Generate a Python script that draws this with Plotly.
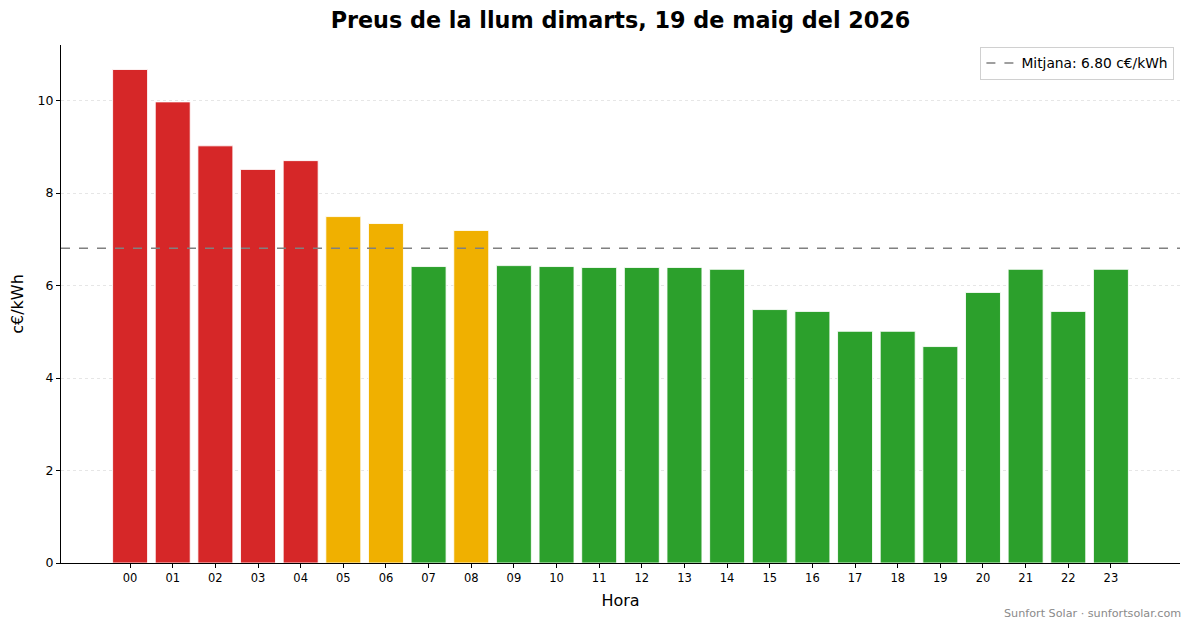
#!/usr/bin/env python3
import numpy as np
import plotly.graph_objects as go

hours = [f"{h:02d}" for h in range(24)]
prices = [
    10.67, 9.97, 9.02, 8.51, 8.70, 7.49, 7.34, 6.41,
    7.19, 6.43, 6.41, 6.39, 6.39, 6.39, 6.35, 5.48,
    5.44, 5.01, 5.01, 4.68, 5.85, 6.35, 5.44, 6.35,
]
title = "Preus de la llum dimarts, 19 de maig del 2026"
footer = "Sunfort Solar · sunfortsolar.com"

RED = "#d62728"
ORANGE = "#f0b000"
GREEN = "#2ca02c"
FONT = "DejaVu Sans"

W, H = 1193, 628
ML, MR, MT, MB = 61, 13, 45, 65

mean = float(np.mean(prices))


def bar_color(v: float) -> str:
    if v >= mean * 1.2:
        return RED
    if v >= mean * 1.05:
        return ORANGE
    return GREEN


fig = go.Figure()
fig.add_trace(
    go.Bar(
        x=list(range(len(hours))),
        y=prices,
        width=0.82,
        marker=dict(color=[bar_color(v) for v in prices],
                    line=dict(color="rgba(255,255,255,0.85)", width=1)),
        showlegend=False,
        hoverinfo="x+y",
    )
)
fig.add_hline(y=mean, line=dict(color="#808080", width=1.5, dash="dash"))
fig.add_trace(
    go.Scatter(
        x=[None], y=[None], mode="lines",
        line=dict(color="#808080", width=1.5, dash="dash"),
        name=f"Mitjana: {mean:.2f} c€/kWh",
    )
)

fig.update_layout(
    width=W,
    height=H,
    margin=dict(l=ML, r=MR, t=MT, b=MB),
    paper_bgcolor="white",
    plot_bgcolor="white",
    font=dict(family=FONT, color="black", size=13),
    title=dict(text=f"<b>{title}</b>", x=0.5, xref="paper", xanchor="center",
               y=1 - 20 / H, yanchor="middle", font=dict(size=22.3, family=FONT)),
    showlegend=True,
    legend=dict(x=0.995, y=0.997, xanchor="right", yanchor="top",
                bordercolor="#d0d0d0", borderwidth=1, bgcolor="white",
                font=dict(size=13.8), itemwidth=30),
    xaxis=dict(
        range=[-1.62, 24.62],
        tickmode="array",
        tickvals=list(range(len(hours))),
        ticktext=hours,
        tickfont=dict(size=11.5),
        ticks="outside", ticklen=4, tickcolor="black",
        showline=True, linecolor="black", linewidth=1,
        showgrid=False, zeroline=False,
        title=dict(text="Hora", font=dict(size=16), standoff=11),
    ),
    yaxis=dict(
        range=[0, 11.2],
        tickvals=[0, 2, 4, 6, 8, 10],
        tickfont=dict(size=12.5),
        ticks="outside", ticklen=4, tickcolor="black",
        showline=True, linecolor="black", linewidth=1,
        showgrid=True, gridcolor="#e6e6e6", griddash="dot", gridwidth=1,
        zeroline=False,
        title=dict(text="c€/kWh", font=dict(size=16), standoff=9),
    ),
    annotations=[
        dict(text=footer,
             x=(1183 - ML) / (W - ML - MR),
             y=-(613 - (H - MB)) / (H - MT - MB),
             xref="paper", yref="paper", showarrow=False,
             font=dict(size=11.2, color="#8a8a8a"),
             xanchor="right", yanchor="middle"),
    ],
)

fig.write_html("out.html", config={"displayModeBar": False},
               post_script="document.body.style.margin='0';")
